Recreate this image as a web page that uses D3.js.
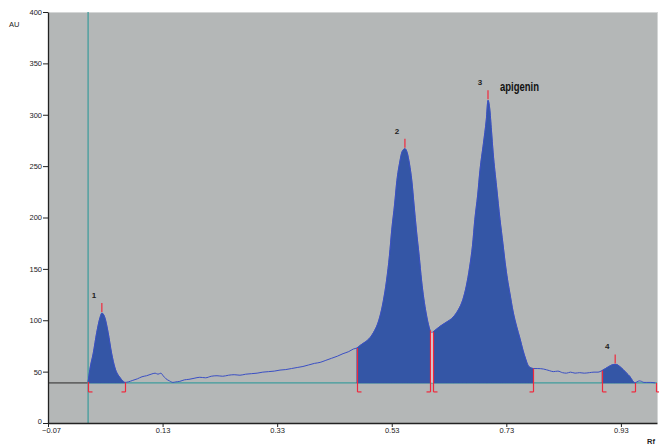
<!DOCTYPE html>
<html>
<head>
<meta charset="utf-8">
<script src="https://cdn.jsdelivr.net/npm/d3@7"></script>
<style>
  html, body { margin: 0; padding: 0; background: #ffffff; }
  svg { display: block; }
  .tick text { font-family: "Liberation Sans", Arial, sans-serif; font-size: 7.5px; fill: #222; }
</style>
</head>
<body>
<svg id="chart" width="659" height="445"></svg>
<script>
// ---- data ----
const rfValues = [
  0.000, 0.003, 0.009, 0.015, 0.021, 0.024, 0.029, 0.035, 0.041, 0.047, 0.056, 0.064,
  0.070, 0.078, 0.086, 0.094, 0.102, 0.110, 0.117, 0.122, 0.127, 0.131, 0.136, 0.142, 0.148, 0.153,
  0.160, 0.168, 0.176, 0.185, 0.195, 0.205, 0.215, 0.225, 0.235, 0.245, 0.255, 0.265, 0.275, 0.285,
  0.295, 0.305, 0.315, 0.325, 0.335, 0.345, 0.355, 0.365, 0.375, 0.385, 0.395, 0.405, 0.415, 0.425,
  0.435, 0.445, 0.455, 0.463, 0.469,
  0.476, 0.484, 0.492, 0.500, 0.505, 0.509, 0.515, 0.521, 0.526, 0.530, 0.535, 0.539, 0.544, 0.548,
  0.553, 0.557, 0.561, 0.565, 0.569, 0.573, 0.578, 0.582, 0.586, 0.590, 0.594, 0.597, 0.600,
  0.605, 0.614, 0.625, 0.637, 0.646, 0.654, 0.660, 0.666, 0.671, 0.675, 0.680, 0.684, 0.690, 0.695,
  0.698, 0.701, 0.704, 0.707, 0.713, 0.719, 0.724, 0.728, 0.732, 0.736, 0.742, 0.748, 0.754, 0.759,
  0.764, 0.768, 0.772, 0.777,
  0.785, 0.795, 0.805, 0.812, 0.820, 0.828, 0.835, 0.842, 0.850, 0.858, 0.866, 0.875, 0.883, 0.890, 0.897,
  0.903, 0.909, 0.914, 0.918, 0.922, 0.928, 0.934, 0.940, 0.946, 0.950, 0.954,
  0.958, 0.962, 0.966, 0.970, 0.975, 0.982, 0.990
];
const auValues = [
  40, 52, 68, 88, 103, 107, 103, 88, 68, 53.5, 44, 39.5,
  40, 41.5, 43, 45, 46, 47.5, 48.5, 47.5, 48.5, 46, 43, 41, 39.5, 40,
  40.5, 42, 42.5, 43.5, 44.5, 44, 45.5, 46, 45.5, 46.5, 47, 46.5, 47.5, 48,
  48.5, 49.5, 50, 50.5, 51.5, 52, 53, 54, 55, 56.5, 58, 59, 61, 63,
  65, 67.5, 69.5, 72, 73,
  76, 79, 83, 90, 96, 103, 118, 139, 163, 188, 213, 236, 254, 264,
  267, 263, 252, 236, 212, 188, 162, 139, 121, 107, 96, 90, 88,
  90, 94, 98, 103, 110, 120, 133, 152, 173, 198, 222, 246, 272, 295,
  314, 306, 285, 263, 230, 198, 175, 156, 140, 127, 108, 94, 82, 71,
  62, 56, 54, 53,
  53, 52.5, 51, 50, 50.5, 49, 48.5, 49.5, 48.5, 49, 48.5, 49, 49.5, 49.5, 51,
  53, 55, 56.5, 57, 57, 55, 52, 48.5, 45, 41.5, 39,
  40, 41, 40.5, 39.5, 39.5, 39.5, 39
];
const peakLabels = ["1", "2", "3", "4"];
const peakStarts = [0.000, 0.469, 0.602, 0.897];
const peakEnds   = [0.064, 0.597, 0.777, 0.954];
const peakApex   = [0.024, 0.553, 0.698, 0.920];
const extraStartMarks = [0.991];
const baselineAU = 39;
const compoundName = "apigenin";
const yTicks = [0, 50, 100, 150, 200, 250, 300, 350, 400];
const xTicks = [-0.07, 0.13, 0.33, 0.53, 0.73, 0.93];
const yAxisTitle = "AU";
const xAxisTitle = "Rf";

// ---- drawing ----
const svg = d3.select("#chart");
const x = d3.scaleLinear().domain([-0.07, 0.993]).range([48, 657]);
const y = d3.scaleLinear().domain([0, 400]).range([423, 12]);

const pts = rfValues.map((r, i) => ({ rf: r, au: auValues[i] }));
const auAt = rf => {
  const bis = d3.bisector(d => d.rf).left;
  const i = bis(pts, rf);
  if (i <= 0) return pts[0].au;
  if (i >= pts.length) return pts[pts.length - 1].au;
  const a = pts[i - 1], b = pts[i];
  const t = (rf - a.rf) / (b.rf - a.rf);
  return a.au + t * (b.au - a.au);
};

// plot background
svg.append("rect")
  .attr("x", x.range()[0]).attr("y", y.range()[1])
  .attr("width", x.range()[1] - x.range()[0])
  .attr("height", y.range()[0] - y.range()[1])
  .attr("fill", "#b4b7b7");
svg.append("line")
  .attr("x1", x.range()[0]).attr("x2", x.range()[1])
  .attr("y1", y.range()[1] + 0.5).attr("y2", y.range()[1] + 0.5)
  .attr("stroke", "#d4d6d6").attr("stroke-width", 1);
svg.append("line")
  .attr("x1", x.range()[1] + 0.5).attr("x2", x.range()[1] + 0.5)
  .attr("y1", y.range()[1]).attr("y2", y.range()[0])
  .attr("stroke", "#d4d6d6").attr("stroke-width", 1);

// baseline: dark to the left of the origin, teal after
svg.append("line")
  .attr("x1", x.range()[0]).attr("x2", x(0))
  .attr("y1", y(baselineAU)).attr("y2", y(baselineAU))
  .attr("stroke", "#2a2a2a").attr("stroke-width", 1);
svg.append("line")
  .attr("x1", x(0)).attr("x2", x.range()[1])
  .attr("y1", y(baselineAU)).attr("y2", y(baselineAU))
  .attr("stroke", "#3f9c9c").attr("stroke-width", 1.2);
// origin vertical teal line
svg.append("line")
  .attr("x1", x(0)).attr("x2", x(0))
  .attr("y1", y.range()[1]).attr("y2", y.range()[0])
  .attr("stroke", "#4a9e9e").attr("stroke-width", 1.4);

// filled peak areas
const area = d3.area().x(d => x(d.rf)).y0(y(baselineAU)).y1(d => y(d.au)).curve(d3.curveMonotoneX);
peakStarts.forEach((s, i) => {
  const e = peakEnds[i];
  const seg = pts.filter(p => p.rf > s && p.rf < e);
  const data = [{ rf: s, au: auAt(s) }, ...seg, { rf: e, au: auAt(e) }];
  svg.append("path").datum(data).attr("d", area)
    .attr("fill", "#3456a6").attr("stroke", "#3456a6").attr("stroke-width", 0.6);
});

// trace line
const line = d3.line().x(d => x(d.rf)).y(d => y(d.au)).curve(d3.curveMonotoneX);
svg.append("path").datum(pts).attr("d", line)
  .attr("fill", "none").attr("stroke", "#3a4fc4").attr("stroke-width", 1);

// red boundary markers
const red = "#f0283c";
function mark(rf, dir) {
  const px = Math.round(x(rf)) + 0.5;
  const top = y(auAt(rf));
  const bot = y(baselineAU) + 9;
  svg.append("line").attr("x1", px).attr("x2", px).attr("y1", top).attr("y2", bot)
    .attr("stroke", red).attr("stroke-width", 1.2);
  svg.append("line").attr("x1", px).attr("x2", px + dir * 4).attr("y1", bot).attr("y2", bot)
    .attr("stroke", red).attr("stroke-width", 1.2);
}
peakStarts.forEach(s => mark(s, 1));
peakEnds.forEach(e => mark(e, -1));
extraStartMarks.forEach(s => mark(s, 1));

// white gap between adjoining peaks 2 and 3
svg.append("line")
  .attr("x1", (x(peakEnds[1]) + x(peakStarts[2])) / 2 + 0.5)
  .attr("x2", (x(peakEnds[1]) + x(peakStarts[2])) / 2 + 0.5)
  .attr("y1", y(auAt(0.6))).attr("y2", y(baselineAU))
  .attr("stroke", "#f4d8dc").attr("stroke-width", 1.2);

// apex ticks and labels
peakApex.forEach((a, i) => {
  const px = x(a), py = y(auAt(a));
  svg.append("line").attr("x1", px).attr("x2", px).attr("y1", py - 1).attr("y2", py - 10)
    .attr("stroke", red).attr("stroke-width", 1.2);
  svg.append("text").attr("x", px - 8).attr("y", py - 15)
    .attr("text-anchor", "middle")
    .attr("font-family", "Liberation Sans, Arial, sans-serif")
    .attr("font-size", 8).attr("font-weight", "bold").attr("fill", "#222")
    .text(peakLabels[i]);
});
svg.append("text")
  .attr("x", x(peakApex[2]) + 12).attr("y", y(auAt(peakApex[2])) - 9)
  .attr("font-family", "Liberation Sans, Arial, sans-serif")
  .attr("font-size", 12).attr("font-weight", "bold").attr("fill", "#111")
  .attr("textLength", 39).attr("lengthAdjust", "spacingAndGlyphs")
  .text(compoundName);

// axes
const yAxis = d3.axisLeft(y).tickValues(yTicks).tickSize(5).tickSizeOuter(0).tickPadding(1);
const gy = svg.append("g").attr("transform", `translate(${x.range()[0]},0)`).call(yAxis);
const xAxis = d3.axisBottom(x).tickValues(xTicks).tickFormat(d3.format(".2f")).tickSize(4).tickSizeOuter(0).tickPadding(1);
const gx = svg.append("g").attr("transform", `translate(0,${y.range()[0]})`).call(xAxis);
[gy, gx].forEach(g => {
  g.select(".domain").attr("stroke", "#222").attr("stroke-width", 1.3);
  g.selectAll(".tick line").attr("stroke", "#222");
});
// nudge the corner labels so "0" and "-0.07" do not collide
gy.selectAll(".tick").filter(d => d === 0).select("text").attr("dy", "0.1em");
gx.selectAll(".tick").filter(d => d === -0.07).select("text").attr("dx", "3");

svg.append("text").attr("x", 9).attr("y", 27)
  .attr("font-family", "Liberation Sans, Arial, sans-serif")
  .attr("font-size", 7.5).attr("fill", "#222").text(yAxisTitle);
svg.append("text").attr("x", 647).attr("y", 444)
  .attr("font-family", "Liberation Sans, Arial, sans-serif")
  .attr("font-size", 7.5).attr("font-weight", "bold").attr("fill", "#222").text(xAxisTitle);
</script>
</body>
</html>
